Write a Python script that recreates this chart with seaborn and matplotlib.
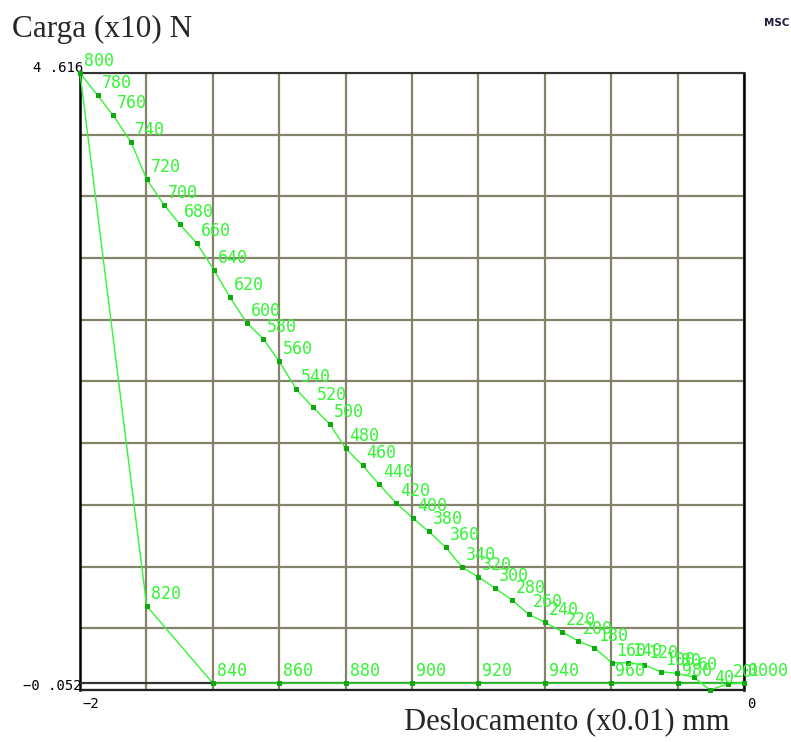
"""
Curva carga x deslocamento (MSC) - recriação com seaborn.
"""
import pandas as pd
import matplotlib
matplotlib.use("Agg")
import matplotlib.pyplot as plt
import seaborn as sns
import numpy as np

# -------- Dados --------
passos = [0, 20, 40, 60, 80, 100, 120, 140, 160, 180,
          200, 220, 240, 260, 280, 300, 320, 340, 360, 380,
          400, 420, 440, 460, 480, 500, 520, 540, 560, 580,
          600, 620, 640, 660, 680, 700, 720, 740, 760, 780,
          800, 820, 840, 860, 880, 900, 920, 940, 960, 980, 1000]

deslocamento = [0.0, -0.047, -0.102, -0.151, -0.201, -0.251, -0.300, -0.348, -0.398, -0.451,
                -0.499, -0.548, -0.600, -0.648, -0.700, -0.749, -0.801, -0.849, -0.898, -0.950,
                -0.998, -1.049, -1.099, -1.149, -1.200, -1.247, -1.299, -1.348, -1.400, -1.448,
                -1.498, -1.548, -1.596, -1.649, -1.699, -1.747, -1.799, -1.846, -1.900, -1.947,
                -2.0, -1.799, -1.600, -1.400, -1.200, -1.000, -0.800, -0.600, -0.400, -0.200, 0.0]

carga = [0.0, -0.005, -0.052, 0.044, 0.074, 0.086, 0.137, 0.154, 0.154, 0.268,
         0.318, 0.389, 0.460, 0.520, 0.631, 0.717, 0.805, 0.876, 1.027, 1.148,
         1.249, 1.365, 1.504, 1.647, 1.776, 1.958, 2.088, 2.222, 2.434, 2.605,
         2.726, 2.918, 3.124, 3.331, 3.470, 3.619, 3.811, 4.093, 4.295, 4.447,
         4.616, 0.583, 0.0, 0.0, 0.0, 0.0, 0.0, 0.0, 0.0, 0.0, 0.0]

x_min, x_max = -2.0, 0.0
y_min, y_max = -0.052, 4.616
x_tick_labels = ["\u22122", "0"]
y_tick_labels = ["4 .616", "\u22120 .052"]

df = pd.DataFrame({"passo": passos, "x": deslocamento, "y": carga})

# -------- Estilo --------
sns.set_style("white")
plt.rcParams["font.family"] = ["DejaVu Sans Mono"]

verde = "#33f533"
grade = "#85826b"

fig = plt.figure(figsize=(7.91, 7.42), dpi=100)
ax = fig.add_axes([80 / 791, 52 / 742, 664 / 791, 617 / 742])

sns.lineplot(data=df, x="x", y="y", sort=False, estimator=None, ax=ax,
             color=verde, linewidth=1.0, marker="s", markersize=3.5,
             markerfacecolor="#0fa80f", markeredgecolor="#0fa80f",
             clip_on=False, zorder=4)

# rótulos dos passos
for p, xv, yv in zip(passos, deslocamento, carga):
    ax.annotate(str(p), (xv, yv), xytext=(4, 7), textcoords="offset pixels",
                color=verde, fontsize=12, ha="left", va="baseline",
                annotation_clip=False, zorder=5)

ax.set_xlim(x_min, x_max)
ax.set_ylim(y_min, y_max)
ax.set_xticks(np.linspace(x_min, x_max, 11))
ax.set_yticks(np.linspace(y_min, y_max, 11))
ax.set_xticklabels([])
ax.set_yticklabels([])
ax.tick_params(length=0)
ax.grid(True, color=grade, linewidth=1.6)
ax.set_xlabel("")
ax.set_ylabel("")

ax.axhline(0, color="#333333", linewidth=1.6, zorder=3)
for lado in ["left", "right"]:
    ax.spines[lado].set_color("black")
    ax.spines[lado].set_linewidth(1.8)
ax.spines["top"].set_color("#333333")
ax.spines["top"].set_linewidth(1.5)
ax.spines["bottom"].set_color("#222222")
ax.spines["bottom"].set_linewidth(1.6)

# rótulos dos limites dos eixos
ax.annotate(y_tick_labels[0], (x_min, y_max), xytext=(3, 1), textcoords="offset pixels",
            ha="right", va="baseline", fontsize=10, color="black", annotation_clip=False)
ax.annotate(y_tick_labels[1], (x_min, y_min), xytext=(2, 0), textcoords="offset pixels",
            ha="right", va="baseline", fontsize=10, color="black", annotation_clip=False)
ax.annotate(x_tick_labels[0], (x_min, y_min), xytext=(2, -7), textcoords="offset pixels",
            ha="left", va="top", fontsize=10, color="black", annotation_clip=False)
ax.annotate(x_tick_labels[1], (x_max, y_min), xytext=(3, -7), textcoords="offset pixels",
            ha="left", va="top", fontsize=10, color="black", annotation_clip=False)

# títulos
fig.text(12 / 791, 1 - 37 / 742, "Carga (x10) N", family="Liberation Serif",
         fontsize=22.5, ha="left", va="baseline")
fig.text(730 / 791, 1 - 729 / 742, "Deslocamento (x0.01) mm", family="Liberation Serif",
         fontsize=22, ha="right", va="baseline")
fig.text(764 / 791, 1 - 26 / 742, "MSC", family="DejaVu Sans", fontsize=7.5,
         weight="bold", color="#1b1b3a", ha="left", va="baseline")

fig.savefig("out.png", dpi=100)
